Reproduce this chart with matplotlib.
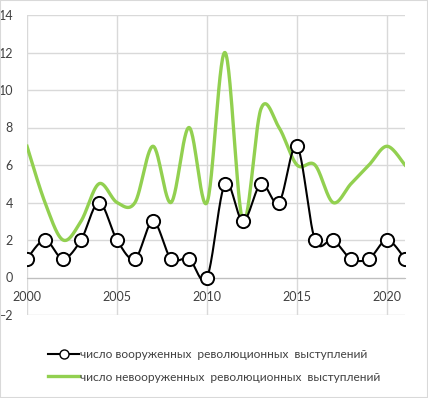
import numpy as np
import matplotlib.pyplot as plt
from matplotlib.lines import Line2D
from matplotlib.patches import Rectangle

years = list(range(2000, 2022))
armed = [1, 2, 1, 2, 4, 2, 1, 3, 1, 1, 0, 5, 3, 5, 4, 7, 2, 2, 1, 1, 2, 1]
unarmed = [7, 4, 2, 3, 5, 4, 4, 7, 4, 8, 4, 12, 3, 9, 8, 6, 6, 4, 5, 6, 7, 6]
label_armed = 'число вооруженных  революционных  выступлений'
label_unarmed = 'число невооруженных  революционных  выступлений'


def smooth(x, y, n=30):
    # Excel-like smoothed line: cubic Bezier through points
    x = np.asarray(x, float)
    y = np.asarray(y, float)
    px = np.concatenate([[x[0]], x, [x[-1]]])
    py = np.concatenate([[y[0]], y, [y[-1]]])
    xs, ys = [], []
    t = np.linspace(0, 1, n)
    for i in range(len(x) - 1):
        p0 = np.array([px[i + 1], py[i + 1]])
        p3 = np.array([px[i + 2], py[i + 2]])
        p1 = p0 + (np.array([px[i + 2], py[i + 2]]) - np.array([px[i], py[i]])) / 6
        p2 = p3 - (np.array([px[i + 3], py[i + 3]]) - np.array([px[i + 1], py[i + 1]])) / 6
        b = ((1 - t) ** 3)[:, None] * p0 + (3 * (1 - t) ** 2 * t)[:, None] * p1 \
            + (3 * (1 - t) * t ** 2)[:, None] * p2 + (t ** 3)[:, None] * p3
        xs.extend(b[:, 0])
        ys.extend(b[:, 1])
    return np.array(xs), np.array(ys)


plt.rcParams['font.family'] = ['Lato', 'DejaVu Sans']

fig = plt.figure(figsize=(4.28, 3.98), dpi=100)
ax = fig.add_axes([27 / 428, 1 - 315 / 398, 378 / 428, 300 / 398])

gx, gy = smooth(years, unarmed)
ax.plot(gx, gy, color='#92d050', lw=2.4, zorder=3)
bx, by = smooth(years, armed)
ax.plot(bx, by, color='black', lw=1.5, zorder=4)
ax.plot(years, armed, 'o', ms=9.5, mfc='white', mec='black', mew=1.4, zorder=5)

ax.set_xlim(2000, 2021)
ax.set_ylim(-2, 14)
ax.set_xticks([2000, 2005, 2010, 2015, 2020])
ax.set_yticks(range(-2, 15, 2))
ax.grid(True, color='#d9d9d9', lw=1)
ax.set_axisbelow(True)
for s in ['top', 'right', 'left']:
    ax.spines[s].set_visible(False)
ax.spines['bottom'].set_position(('data', 0))
ax.spines['bottom'].set_color('#bfbfbf')
ax.tick_params(length=0, labelsize=9, colors='#404040')
ax.tick_params(axis='x', pad=10)
ax.tick_params(axis='y', pad=10)

handles = [
    Line2D([], [], color='black', lw=1.5, marker='o', ms=6.5, mfc='white', mec='black'),
    Line2D([], [], color='#92d050', lw=2.4),
]
fig.legend(handles, [label_armed, label_unarmed], loc='center',
           bbox_to_anchor=(0.5, 1 - 366 / 398), frameon=False, fontsize=8.6,
           handlelength=2.6, handletextpad=0.05, labelspacing=0.95,
           labelcolor='#404040')

fig.patches.append(Rectangle((0, 0), 1, 1, transform=fig.transFigure,
                             fill=False, ec='#d9d9d9', lw=1.5))

fig.savefig('out.png', dpi=100)
